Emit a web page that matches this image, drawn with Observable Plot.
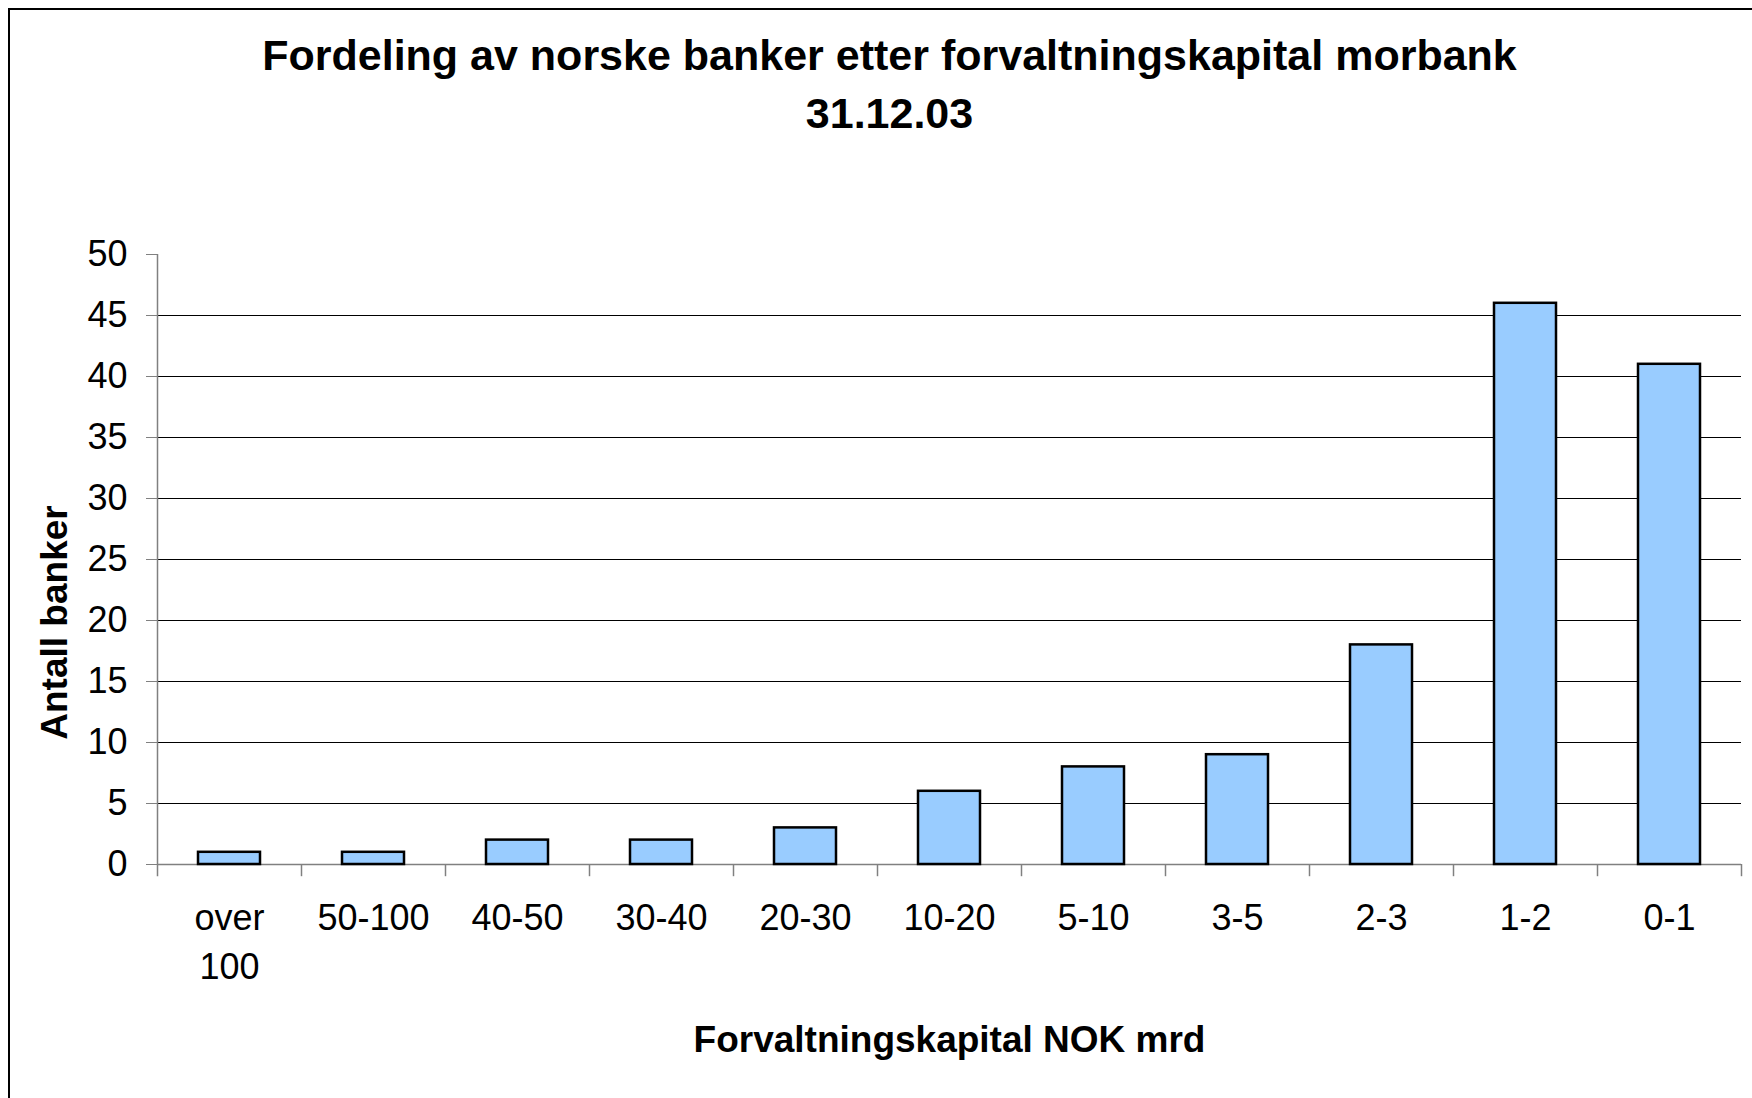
<!DOCTYPE html>
<html><head><meta charset="utf-8">
<script src="https://cdn.jsdelivr.net/npm/d3@7"></script>
<script src="https://cdn.jsdelivr.net/npm/@observablehq/plot@0.6"></script>
<style>
html,body{margin:0;padding:0;background:#fff;}
#wrap{position:relative;width:1752px;height:1098px;overflow:hidden;font-family:"Liberation Sans",Arial,sans-serif;background:#fff;}
#frame{position:absolute;left:8px;top:8px;width:1800px;height:1200px;border-left:2px solid #000;border-top:2px solid #000;pointer-events:none;}
#title{height:170px;box-sizing:border-box;padding-top:26px;padding-left:27px;text-align:center;font-weight:bold;font-size:43px;line-height:58px;color:#000;}
#chart svg{display:block;overflow:visible;}
</style></head>
<body><div id="wrap"><div id="frame"></div>
<div id="title"><div>Fordeling av norske banker etter forvaltningskapital morbank</div><div>31.12.03</div></div>
<div id="chart"></div></div>
<script>
const categories = ["over 100","50-100","40-50","30-40","20-30","10-20","5-10","3-5","2-3","1-2","0-1"];
const counts = [1,1,2,2,3,6,8,9,18,46,41];
const yTicks = [0,5,10,15,20,25,30,35,40,45,50];
const gridValues = [5,10,15,20,25,30,35,40,45];
const xLabel = "Forvaltningskapital NOK mrd";
const yLabel = "Antall banker";

const data = categories.map((c, i) => ({cat: c, n: counts[i]}));
const width = 1752, height = 928;
const marginLeft = 157, marginRight = 11, marginTop = 84, marginBottom = 234;
const step = (width - marginLeft - marginRight) / categories.length;
const axisGray = "#808080";
const last = categories[categories.length - 1];

const chart = Plot.plot({
  width, height, marginLeft, marginRight, marginTop, marginBottom,
  style: {fontFamily: '"Liberation Sans", Arial, sans-serif', color: "#000", background: "#fff", overflow: "visible"},
  x: {type: "band", domain: categories, padding: 0, label: null},
  y: {domain: [0, 50], label: null},
  marks: [
    Plot.ruleY(gridValues, {stroke: "#000", strokeWidth: 1}),
    Plot.ruleY([0], {stroke: axisGray, strokeWidth: 1.5}),
    Plot.ruleX([categories[0]], {x: d => d, dx: -step / 2, y1: -1, y2: 50, stroke: axisGray, strokeWidth: 1.5}),
    Plot.ruleX(categories.slice(1), {x: d => d, dx: -step / 2, y1: -1, y2: 0, stroke: axisGray, strokeWidth: 1.5}),
    Plot.ruleX([last], {x: d => d, dx: step / 2, y1: -1, y2: 0, stroke: axisGray, strokeWidth: 1.5}),
    Plot.barY(data, {x: "cat", y: "n", fill: "#99CCFF", stroke: "#000", strokeWidth: 2.5, insetLeft: 41, insetRight: 41}),
    Plot.axisY(yTicks, {tickSize: 11, tickPadding: 19, fontSize: 36, stroke: axisGray, fill: "#000", label: null}),
    Plot.axisX({tickSize: 0, tickPadding: 31, fontSize: 36, lineHeight: 1.36, fill: "#000", label: null, tickFormat: d => d.replace(" ", "\n")}),
    Plot.text([yLabel], {text: d => d, frameAnchor: "left", textAnchor: "middle", lineAnchor: "middle", dx: -102, dy: 63, rotate: -90, fontSize: 37, fontWeight: "bold", fill: "#000"}),
    Plot.text([xLabel], {text: d => d, frameAnchor: "bottom", dy: 187, fontSize: 37, fontWeight: "bold", fill: "#000"})
  ]
});
document.getElementById("chart").appendChild(chart);
</script>
</body></html>
